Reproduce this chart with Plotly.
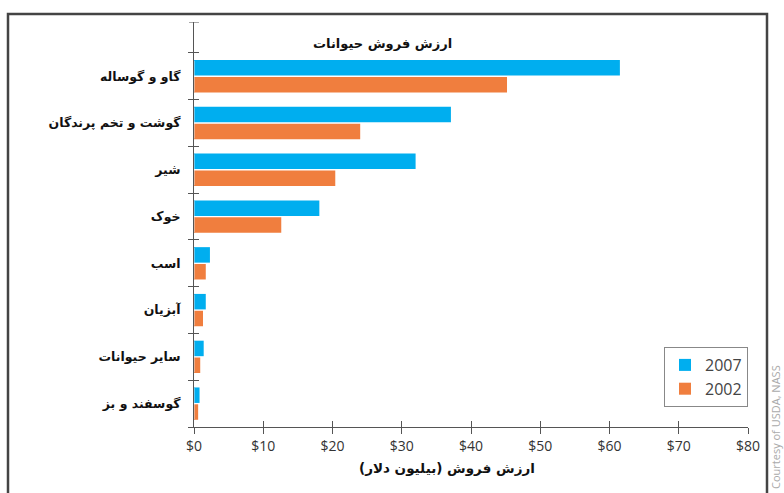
import plotly.graph_objects as go

categories = ["گوسفند و بز", "سایر حیوانات", "آبزیان", "اسب", "خوک", "شیر", "گوشت و تخم پرندگان", "گاو و گوساله"]
values_2007 = [0.8, 1.4, 1.7, 2.3, 18.1, 32.0, 37.1, 61.5]
values_2002 = [0.6, 0.9, 1.3, 1.7, 12.6, 20.4, 24.0, 45.2]
x_tickvals = [0, 10, 20, 30, 40, 50, 60, 70, 80]
x_ticktext = ["$0", "$10", "$20", "$30", "$40", "$50", "$60", "$70", "$80"]

title_text = "ارزش فروش حیوانات"
xaxis_title = "ارزش فروش (بیلیون دلار)"
credit = "Courtesy of USDA, NASS"

C2007 = "#00AEEF"
C2002 = "#F07E3E"
FA = "DejaVu Sans"
FL = "Open Sans"

fig = go.Figure()
fig.add_trace(go.Bar(y=categories, x=values_2002, orientation="h", name="2002",
                     marker=dict(color=C2002, line=dict(width=0))))
fig.add_trace(go.Bar(y=categories, x=values_2007, orientation="h", name="2007",
                     marker=dict(color=C2007, line=dict(width=0))))

ymax = 7.5 + 0.66
axis_col = "#555555"
PW, PH = 554, 405  # plot area size in px
L, T = 194, 22

def px(x):
    return (x - L) / PW

def py(y):
    return 1 - (y - T) / PH

fig.update_layout(
    width=784, height=493,
    margin=dict(l=194, r=36, t=22, b=66),
    paper_bgcolor="white", plot_bgcolor="white",
    barmode="group", bargap=0.28, bargroupgap=0.08,
    showlegend=True,
    legend=dict(x=1.0, y=py(407), xanchor="right", yanchor="bottom",
                traceorder="reversed", bordercolor="#888888", borderwidth=1,
                bgcolor="white", font=dict(family=FL, size=16, color="#444444"),
                itemwidth=30, tracegroupgap=2),
    xaxis=dict(range=[0, 80], tickvals=x_tickvals, ticktext=x_ticktext,
               showgrid=False, zeroline=False, showline=True, linecolor=axis_col,
               linewidth=1, ticks="outside", ticklen=6, tickcolor=axis_col,
               tickfont=dict(family=FL, size=14, color="#333333")),
    xaxis2=dict(range=[0, 80], tickvals=x_tickvals, showticklabels=False,
                overlaying="x", side="bottom", showgrid=False, zeroline=False,
                ticks="inside", ticklen=6, tickcolor=axis_col, anchor="y"),
    yaxis=dict(type="category", range=[-0.5, ymax], showgrid=False, zeroline=False,
               showline=True, linecolor=axis_col, linewidth=1,
               ticks="outside", tickson="boundaries", ticklen=5, tickcolor=axis_col,
               tickfont=dict(family=FA, size=12.5, color="#111111"), ticklabelstandoff=10,
               tickprefix="<b>", ticksuffix="</b>",
               categoryorder="array", categoryarray=categories),
    yaxis2=dict(type="category", range=[-0.5, ymax], overlaying="y", side="left",
                showgrid=False, zeroline=False, showticklabels=False,
                ticks="inside", tickson="boundaries", ticklen=5, tickcolor=axis_col,
                anchor="x", categoryarray=categories, categoryorder="array"),
)

# invisible trace to activate the duplicate axes for crossing ticks
fig.add_trace(go.Bar(y=categories, x=[0] * len(categories), orientation="h",
                     xaxis="x2", yaxis="y2", showlegend=False, hoverinfo="skip",
                     marker=dict(color="rgba(0,0,0,0)")))

# top tick of the y axis
fig.add_shape(type="line", xref="paper", yref="y", x0=-0.009, x1=0.009, y0=ymax, y1=ymax,
              line=dict(color=axis_col, width=1))

# outer frame
fig.add_shape(type="rect", xref="paper", yref="paper",
              x0=px(8), x1=px(767), y0=py(520), y1=py(14),
              line=dict(color="#444444", width=2.5), fillcolor="rgba(0,0,0,0)", layer="above")

fig.add_annotation(text="<b>" + title_text + "</b>", xref="paper", yref="paper",
                   x=px(382), y=py(34), showarrow=False,
                   font=dict(family=FA, size=13, color="#111111"))
fig.add_annotation(text="<b>" + xaxis_title + "</b>", xref="paper", yref="paper",
                   x=px(447), y=py(478), showarrow=False,
                   font=dict(family=FA, size=13.5, color="#111111"))
fig.add_annotation(text=credit, xref="paper", yref="paper", textangle=-90,
                   x=px(775), y=py(491), xanchor="center", yanchor="bottom",
                   showarrow=False, font=dict(family=FL, size=11, color="#AAAAAA"))

fig.write_html("out.html", config={"displayModeBar": False},
               post_script="document.body.style.margin='0';document.body.style.padding='0';")
